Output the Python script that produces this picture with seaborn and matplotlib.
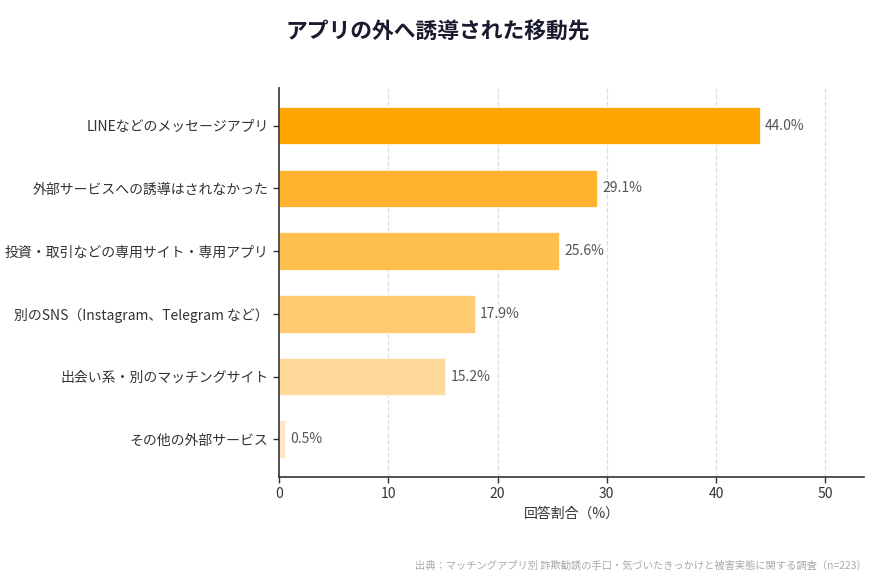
import matplotlib
matplotlib.use('Agg')
import matplotlib.pyplot as plt
import pandas as pd
import seaborn as sns

# data
categories = [
    'LINEなどのメッセージアプリ',
    '外部サービスへの誘導はされなかった',
    '投資・取引などの専用サイト・専用アプリ',
    '別のSNS（Instagram、Telegram など）',
    '出会い系・別のマッチングサイト',
    'その他の外部サービス',
]
values = [44.0, 29.1, 25.6, 17.9, 15.2, 0.5]
bar_colors = ['#FFA500', '#FFB32E', '#FFBF4F', '#FFCA70', '#FFD99A', '#FFE6C0']
xticks = [0, 10, 20, 30, 40, 50]

df = pd.DataFrame({'category': categories, 'value': values})

sns.set_theme(style='white')
plt.rcParams['font.family'] = ['Noto Sans CJK JP', 'DejaVu Sans']

fig = plt.figure(figsize=(8.75, 5.83), dpi=100)
ax = fig.add_axes([0.319, 0.182, 0.669, 0.667])

sns.barplot(data=df, x='value', y='category', hue='category', palette=bar_colors,
            saturation=1, legend=False, width=0.6, edgecolor='white', linewidth=0.5, ax=ax)

for i, v in enumerate(values):
    ax.text(v + 0.5, i, f'{v:.1f}%', va='center', ha='left', fontsize=10, color='#555555')

ax.set_xlim(0, 53.6)
ax.set_ylim(5.6, -0.6)
ax.set_xticks(xticks)
ax.set_xlabel('回答割合（%）', fontsize=10, color='#333333')
ax.set_ylabel('')
ax.tick_params(axis='both', labelsize=10, colors='#333333', length=4, width=1, left=True, bottom=True)
for v in xticks[1:]:
    ax.axvline(v, color='#dddddd', linestyle='--', linewidth=0.9, zorder=0)

sns.despine(ax=ax)
ax.spines['left'].set_color('#333333')
ax.spines['bottom'].set_color('#333333')
ax.spines['left'].set_linewidth(1.2)
ax.spines['bottom'].set_linewidth(1.2)

fig.suptitle('アプリの外へ誘導された移動先', x=0.5, y=0.965, fontsize=15.7,
             fontweight='bold', color='#1a1a2e')
fig.text(0.99, 0.03, '出典：マッチングアプリ別 詐欺勧誘の手口・気づいたきっかけと被害実態に関する調査（n=223）',
         ha='right', va='center', fontsize=7.4, color='#aaaaaa')

fig.savefig('out.png', dpi=100)
